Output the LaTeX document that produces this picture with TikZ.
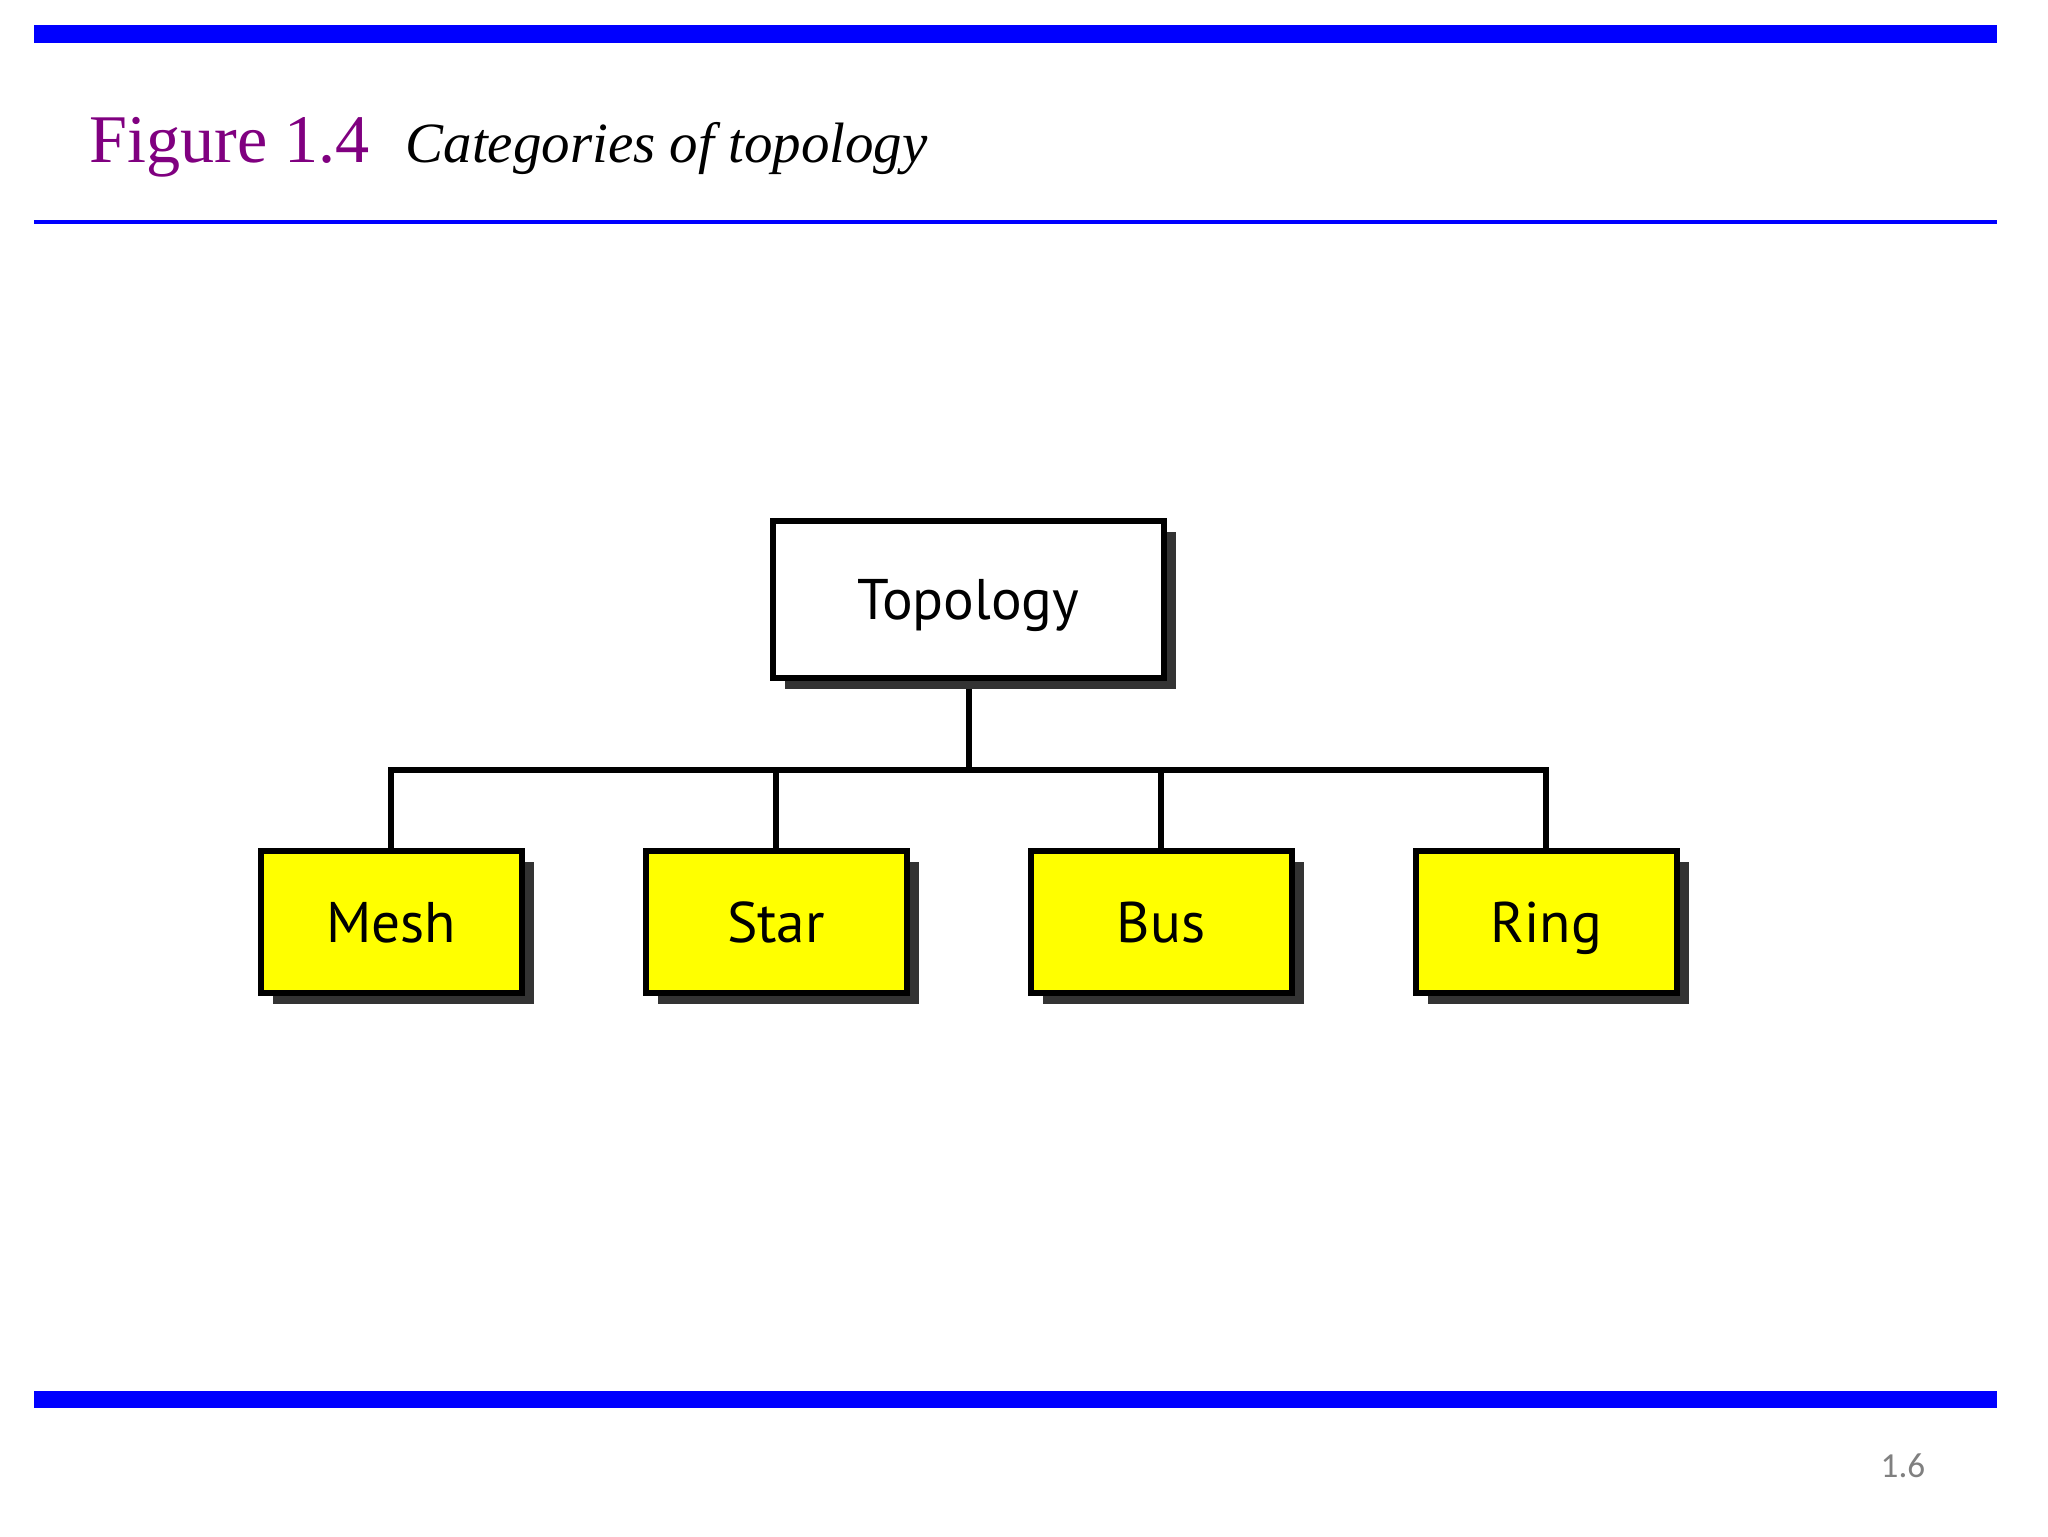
\documentclass[tikz,border=0pt]{standalone}
\usepackage{fontspec}
\setmainfont{Liberation Serif}
\newfontfamily\boxfont{PT Sans}
\newfontfamily\numfont{Carlito}
\usetikzlibrary{shadows}
\definecolor{barblue}{RGB}{0,0,255}
\definecolor{figpurple}{RGB}{128,0,128}
\definecolor{shadowgray}{RGB}{51,51,51}
\definecolor{pagegray}{RGB}{128,128,128}
\definecolor{boxyellow}{RGB}{255,255,0}
\pgfdeclarelayer{bg}
\pgfsetlayers{bg,main}
\begin{document}
\begin{tikzpicture}[x=0.1mm,y=-0.1mm,
  bar/.style={fill=barblue,draw=none},
  boxbase/.style={draw=black,line width=0.6mm,inner sep=0pt,
    font=\boxfont\fontsize{16.3}{19}\selectfont,text height=11.5pt,text depth=0pt,
    drop shadow={shadow xshift=1.2mm,shadow yshift=-1.1mm,fill=shadowgray,opacity=1}},
  rootbox/.style={boxbase,fill=white,minimum width=39.1mm,minimum height=15.7mm},
  catbox/.style={boxbase,fill=boxyellow,minimum width=26.1mm,minimum height=14.2mm},
  conn/.style={draw=black,line width=0.6mm,line join=miter},
  titletext/.style={anchor=base west,inner sep=0pt}]
\begin{pgfonlayer}{bg}
\path[use as bounding box,fill=white] (0,0) rectangle (2048,1536);
\end{pgfonlayer}
% bars
\fill[bar] (34,25) rectangle (1997,43);
\fill[bar] (34,220) rectangle (1997,224);
\fill[bar] (34,1391) rectangle (1997,1408);
% title
\node[titletext,text=figpurple,font=\fontsize{19.4}{24}\selectfont] (fig) at (89,162) {Figure 1.4};
\node[titletext,font=\itshape\fontsize{16.2}{20}\selectfont] (cap) at (405,162) {Categories of topology};
\node[titletext,text=pagegray,font=\numfont\fontsize{10}{12}\selectfont] (page) at (1880,1477) {1.6};
% boxes
\node[rootbox] (top) at (968.5,599.5) {Topology};
\node[catbox] (mesh) at (391,922) {Mesh};
\node[catbox] (star) at (776,922) {Star};
\node[catbox] (busbox) at (1161,922) {Bus};
\node[catbox] (ring) at (1546,922) {Ring};
\coordinate (junction) at (968.5,769.5);
\begin{pgfonlayer}{bg}
\draw[conn] (top.south) -- (junction);
\draw[conn] (mesh.north) |- (junction) -| (ring.north);
\draw[conn] (star.north) -- (star.north |- junction);
\draw[conn] (busbox.north) -- (busbox.north |- junction);
\end{pgfonlayer}
\end{tikzpicture}
\end{document}
